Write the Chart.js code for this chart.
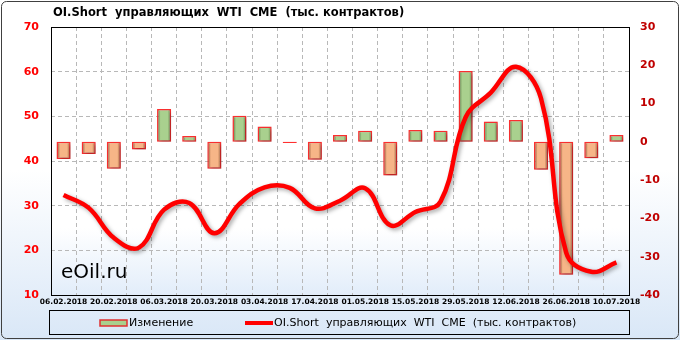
<!DOCTYPE html>
<html>
<head>
<meta charset="utf-8">
<script src="https://cdn.jsdelivr.net/npm/chart.js@4"></script>
<style>
  html, body { margin: 0; padding: 0; background: #fff; }
  #wrap { width: 680px; height: 340px; }
</style>
</head>
<body>
<div id="wrap"><canvas id="myChart" width="680" height="340"></canvas></div>
<script>
let dates = ['06.02.2018','13.02.2018','20.02.2018','27.02.2018','06.03.2018','13.03.2018','20.03.2018','27.03.2018',
             '03.04.2018','10.04.2018','17.04.2018','24.04.2018','01.05.2018','08.05.2018','15.05.2018','22.05.2018',
             '29.05.2018','05.06.2018','12.06.2018','19.06.2018','26.06.2018','03.07.2018','10.07.2018'];
// изменение, тыс. контрактов (правая ось)
let change = [-4.5,-3.2,-7.0,-2.0,8.6,1.5,-7.0,6.8,4.0,-0.3,-4.7,1.8,2.9,-8.8,3.1,2.9,18.5,5.3,5.7,-7.3,-34.7,-4.3,1.8];
// OI.Short, тыс. контрактов (левая ось)
let oiShort = [32.4,29.5,22.8,20.6,29.1,30.6,23.8,30.4,34.1,34.0,29.4,31.1,33.9,25.6,28.6,30.9,49.8,55.3,61.1,54.0,19.5,15.2,17.3];
let leftTicks = [10, 70, 10];   // min, max, step
let rightTicks = [-40, 30, 10];

const title = 'OI.Short  управляющих  WTI  CME  (тыс. контрактов)';
const legendBar = 'Изменение';
const legendLine = 'OI.Short  управляющих  WTI  CME  (тыс. контрактов)';

function barFill(ctx) {
    const chart = ctx.chart;
    const v = ctx.raw;
    const x = chart.scales.x ? chart.scales.x.getPixelForValue(ctx.dataIndex) : NaN;
    if (!isFinite(x)) return v >= 0 ? '#a9d08e' : '#f6b587';
    const g = chart.ctx.createLinearGradient(x - 7, 0, x + 7, 0);
    if (v >= 0) {
        g.addColorStop(0, '#4f6d39');
        g.addColorStop(0.25, '#a9d08e');
        g.addColorStop(0.75, '#a9d08e');
        g.addColorStop(1, '#5e7f45');
    } else {
        g.addColorStop(0, '#7a4225');
        g.addColorStop(0.25, '#f6b587');
        g.addColorStop(0.75, '#f6b587');
        g.addColorStop(1, '#955430');
    }
    return g;
}

const decor = {
    id: 'decor',
    beforeDraw(chart) {
        const c = chart.ctx, a = chart.chartArea;
        c.save();
        let g = c.createLinearGradient(0, 0, 0, 340);
        g.addColorStop(0, '#ffffff');
        g.addColorStop(0.5, '#ffffff');
        g.addColorStop(1, '#d9e7f7');
        c.fillStyle = g;
        c.fillRect(0, 0, 680, 340);
        c.strokeStyle = '#404040';
        c.lineWidth = 1;
        c.beginPath();
        c.roundRect(1.5, 1.5, 677, 337, 5);
        c.stroke();
        g = c.createLinearGradient(0, a.top, 0, a.bottom);
        g.addColorStop(0, '#ffffff');
        g.addColorStop(0.75, '#ffffff');
        g.addColorStop(1, '#e2edfa');
        c.fillStyle = g;
        c.fillRect(a.left, a.top, a.right - a.left, a.bottom - a.top);
        c.restore();
    },
    beforeDatasetsDraw(chart) {
        const c = chart.ctx;
        c.save();
        c.shadowColor = 'rgba(0,0,0,0.35)';
        c.shadowBlur = 4;
        c.shadowOffsetX = 2;
        c.shadowOffsetY = 2;
    },
    afterDatasetsDraw(chart) {
        chart.ctx.restore();
    },
    afterDraw(chart) {
        const c = chart.ctx, a = chart.chartArea;
        c.save();
        c.strokeStyle = '#000';
        c.lineWidth = 1;
        c.strokeRect(Math.round(a.left) + 0.5, Math.round(a.top) + 0.5, Math.round(a.right - a.left), Math.round(a.bottom - a.top));

        c.fillStyle = '#000';
        c.textBaseline = 'middle';
        c.font = 'bold 11.5px "DejaVu Sans"';
        c.fillText(title, 53, 13);

        c.font = '20px "DejaVu Sans"';
        c.textBaseline = 'alphabetic';
        c.fillText('eOil.ru', 61, 278);

        // legend
        c.strokeStyle = '#000';
        c.strokeRect(49.5, 310.5, 580, 24);
        c.fillStyle = '#a9d08e';
        c.fillRect(100, 320, 27, 6);
        c.strokeStyle = '#e03030';
        c.lineWidth = 1.5;
        c.strokeRect(100, 320, 27, 6);
        c.fillStyle = '#000';
        c.font = '11px "DejaVu Sans"';
        c.textBaseline = 'middle';
        c.fillText(legendBar, 129, 323);
        c.strokeStyle = '#ff0000';
        c.lineWidth = 4;
        c.beginPath();
        c.moveTo(245, 323);
        c.lineTo(273, 323);
        c.stroke();
        c.fillText(legendLine, 274, 323);
        c.restore();
    }
};

let context = document.getElementById('myChart').getContext('2d');
let chart = new Chart(context, {
    type: 'bar',
    data: {
        labels: dates,
        datasets: [
            {
                label: legendLine,
                type: 'line',
                data: oiShort,
                yAxisID: 'y',
                borderColor: '#ff0000',
                borderWidth: 4.5,
                pointRadius: 0,
                tension: 0.4,
                order: 1
            },
            {
                label: legendBar,
                data: change,
                yAxisID: 'y1',
                backgroundColor: barFill,
                borderColor: '#ff3030',
                borderWidth: 1.5,
                borderSkipped: false,
                categoryPercentage: 0.8,
                barPercentage: 0.7,
                order: 2
            }
        ]
    },
    options: {
        responsive: false,
        animation: false,
        layout: { padding: { top: 27, bottom: 30, left: 0, right: 0 } },
        plugins: {
            legend: { display: false },
            title: { display: false },
            tooltip: { enabled: false }
        },
        scales: {
            x: {
                offset: true,
                grid: { offset: true, drawTicks: false, color: '#b8b8b8', borderDash: [4, 3] },
                border: { display: false, dash: [4, 3] },
                ticks: {
                    autoSkip: false,
                    maxRotation: 0,
                    padding: 3,
                    color: '#000',
                    font: { family: 'DejaVu Sans', size: 7.5, weight: 'bold' },
                    callback: function (v, i) { return i % 2 === 0 ? this.getLabelForValue(v) : ''; }
                },
                afterFit(s) { s.height = 15; }
            },
            y: {
                position: 'left',
                min: leftTicks[0], max: leftTicks[1],
                ticks: { stepSize: leftTicks[2], padding: 12, color: '#ff0000', font: { family: 'DejaVu Sans', size: 11, weight: 'bold' } },
                grid: { drawTicks: false, color: '#b8b8b8', borderDash: [4, 3] },
                border: { display: false, dash: [4, 3] },
                afterFit(s) { s.width = 51; }
            },
            y1: {
                position: 'right',
                min: rightTicks[0], max: rightTicks[1],
                ticks: { stepSize: rightTicks[2], padding: 11, color: '#c00000', font: { family: 'DejaVu Sans', size: 11, weight: 'bold' } },
                grid: { display: false, drawTicks: false },
                border: { display: false },
                afterFit(s) { s.width = 51; }
            }
        }
    },
    plugins: [decor]
});
</script>
</body>
</html>
